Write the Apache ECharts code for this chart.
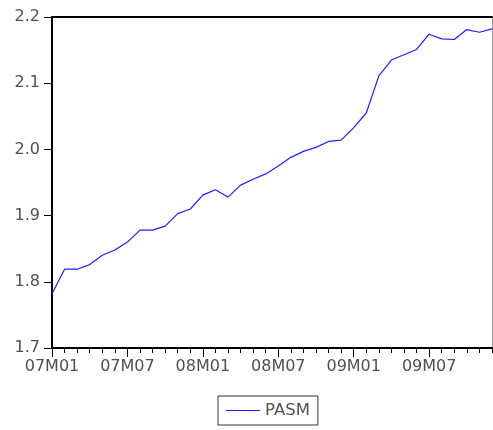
<!DOCTYPE html>
<html>
<head>
<meta charset="utf-8">
<script src="https://cdn.jsdelivr.net/npm/echarts@6/dist/echarts.min.js"></script>
<style>
  html, body { margin: 0; padding: 0; background: #fff; }
  #chart { width: 493px; height: 430px; }
</style>
</head>
<body>
<div id="chart"></div>
<script>
// Monthly series, 2007M01 .. 2009M12
const months = [];
for (let y = 7; y <= 9; y++) {
  for (let m = 1; m <= 12; m++) {
    months.push('0' + y + 'M' + (m < 10 ? '0' + m : m));
  }
}

const pasm = [
  1.782, 1.819, 1.819, 1.826, 1.840, 1.848, 1.860, 1.878, 1.878, 1.884,
  1.903, 1.910, 1.931, 1.939, 1.928, 1.946, 1.955, 1.963, 1.975, 1.988,
  1.997, 2.003, 2.012, 2.014, 2.033, 2.055, 2.111, 2.135, 2.143, 2.151,
  2.174, 2.167, 2.166, 2.181, 2.177, 2.182
];

const yTicks = { min: 1.7, max: 2.2, step: 0.1 };
const seriesName = 'PASM';

const textColor = '#505050';
const font = 'DejaVu Sans';
const lineColor = '#1f1fff';

const chart = echarts.init(document.getElementById('chart'), null, { renderer: 'canvas' });

chart.setOption({
  animation: false,
  backgroundColor: '#fff',
  grid: { left: 52, right: 1, top: 17, bottom: 82, containLabel: false },
  legend: {
    data: [{ name: seriesName, icon: 'rect' }],
    left: 218,
    top: 396,
    orient: 'horizontal',
    borderColor: '#333',
    borderWidth: 1,
    padding: [6, 8, 6, 8],
    itemWidth: 34,
    itemHeight: 1,
    itemGap: 6,
    textStyle: { color: textColor, fontFamily: font, fontSize: 16.5 }
  },
  xAxis: [
    {
      type: 'category',
      data: months,
      boundaryGap: false,
      position: 'bottom',
      axisLine: { show: true, lineStyle: { color: '#000', width: 2 } },
      axisTick: { show: true, inside: false, interval: 5, length: 9, lineStyle: { color: '#000', width: 1 } },
      axisLabel: {
        interval: 5,
        margin: 11,
        color: textColor,
        fontFamily: font,
        fontSize: 16
      },
      splitLine: { show: false }
    },
    {
      type: 'category',
      data: months,
      boundaryGap: false,
      position: 'bottom',
      axisLine: { show: false },
      axisTick: { show: true, inside: false, interval: 0, length: 5, lineStyle: { color: '#000', width: 1 } },
      axisLabel: { show: false },
      splitLine: { show: false }
    },
    {
      type: 'category',
      data: months,
      boundaryGap: false,
      position: 'top',
      axisLine: { show: true, lineStyle: { color: '#000', width: 2 } },
      axisTick: { show: false },
      axisLabel: { show: false },
      splitLine: { show: false }
    }
  ],
  yAxis: [
    {
      type: 'value',
      min: yTicks.min,
      max: yTicks.max,
      interval: yTicks.step,
      position: 'left',
      axisLine: { show: true, lineStyle: { color: '#000', width: 2 } },
      axisTick: { show: true, inside: false, length: 8, lineStyle: { color: '#000', width: 1 } },
      axisLabel: {
        margin: 12,
        color: textColor,
        fontFamily: font,
        fontSize: 16,
        formatter: v => v.toFixed(1)
      },
      splitLine: { show: false }
    },
    {
      type: 'value',
      min: yTicks.min,
      max: yTicks.max,
      interval: yTicks.step,
      position: 'right',
      axisLine: { show: true, lineStyle: { color: '#999', width: 1 } },
      axisTick: { show: false },
      axisLabel: { show: false },
      splitLine: { show: false }
    }
  ],
  series: [
    {
      name: seriesName,
      type: 'line',
      data: pasm,
      symbol: 'none',
      smooth: false,
      lineStyle: { color: lineColor, width: 1.2 },
      itemStyle: { color: lineColor }
    }
  ]
});
</script>
</body>
</html>
